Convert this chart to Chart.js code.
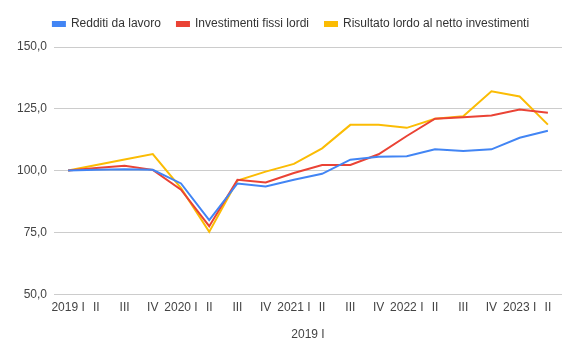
<!DOCTYPE html>
<html>
<head>
<meta charset="utf-8">
<script src="https://cdn.jsdelivr.net/npm/chart.js@4.4.0/dist/chart.umd.min.js"></script>
<style>
  html, body { margin: 0; padding: 0; background: #fff; }
  #wrap { width: 580px; height: 359px; position: relative; }
</style>
</head>
<body>
<div id="wrap"><canvas id="c" width="580" height="359"></canvas></div>
<script>
const categories = ["2019 I", "II", "III", "IV", "2020 I", "II", "III", "IV", "2021 I", "II", "III", "IV", "2022 I", "II", "III", "IV", "2023 I", "II"];
const redditiLavoro = [100.0, 100.3, 100.5, 100.3, 94.8, 80.0, 94.8, 93.6, 96.3, 98.7, 104.4, 105.6, 105.8, 108.6, 107.9, 108.6, 113.3, 116.1];
const investimentiFissi = [100.0, 101.1, 102.0, 100.3, 92.3, 77.5, 96.3, 95.2, 99.0, 102.3, 102.3, 106.6, 114.0, 121.0, 121.6, 122.3, 124.7, 123.4];
const risultatoNetto = [100.0, 102.3, 104.5, 106.7, 92.9, 75.2, 96.0, 99.6, 102.7, 109.0, 118.5, 118.5, 117.3, 121.0, 122.0, 132.1, 130.0, 118.6];
const seriesNames = ["Redditi da lavoro", "Investimenti fissi lordi", "Risultato lordo al netto investimenti"];
const xTitle = "2019 I";

const colors = ["#4285F4", "#EA4335", "#FBBC04"];
const fontFamily = "'Liberation Sans', Arial, sans-serif";

const legendTweak = {
  id: 'legendTweak',
  beforeLayout(chart) {
    const lg = chart.legend;
    if (lg && !lg._patched) {
      const orig = lg.fit;
      lg.fit = function () { orig.call(this); this.height += 7; };
      lg._patched = true;
    }
  },
  afterLayout(chart) {
    const lg = chart.legend;
    if (lg) { lg.left += 10; lg.right += 10; }
  }
};

new Chart(document.getElementById('c'), {
  type: 'line',
  data: {
    labels: categories,
    datasets: [redditiLavoro, investimentiFissi, risultatoNetto].map((d, i) => ({
      label: seriesNames[i],
      data: d,
      borderColor: colors[i],
      backgroundColor: colors[i],
      borderWidth: 2,
      pointRadius: 0,
      tension: 0,
      fill: false
    }))
  },
  plugins: [legendTweak],
  options: {
    responsive: false,
    animation: false,
    layout: { padding: { left: 0, right: 18, top: 2, bottom: 17 } },
    plugins: {
      legend: {
        position: 'top',
        align: 'center',
        labels: {
          boxWidth: 12,
          boxHeight: 4,
          padding: 16,
          color: '#333',
          font: { family: fontFamily, size: 12 }
        }
      },
      tooltip: { enabled: false }
    },
    scales: {
      x: {
        offset: true,
        grid: { display: false, drawTicks: false },
        border: { display: false },
        ticks: {
          autoSkip: false, maxRotation: 0, minRotation: 0,
          color: '#444', padding: 6,
          font: { family: fontFamily, size: 12 }
        },
        title: {
          display: true, text: xTitle, color: '#444',
          font: { family: fontFamily, size: 12 },
          padding: { top: 7, bottom: 0 }
        }
      },
      y: {
        min: 50, max: 150,
        grid: { color: '#cccccc', drawTicks: false },
        border: { display: false },
        afterFit: (s) => { s.width = 54; },
        ticks: {
          stepSize: 25, padding: 7, color: '#444',
          font: { family: fontFamily, size: 12 },
          callback: (v) => v.toFixed(1).replace('.', ',')
        }
      }
    }
  }
});
</script>
</body>
</html>
